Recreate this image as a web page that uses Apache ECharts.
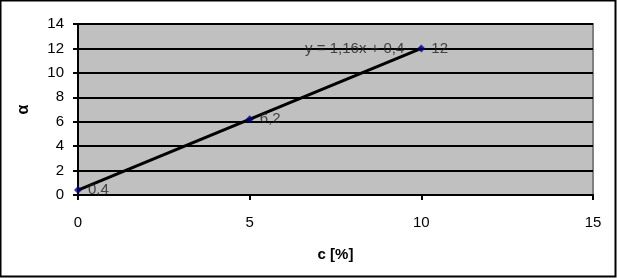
<!DOCTYPE html>
<html><head><meta charset="utf-8">
<script src="https://cdn.jsdelivr.net/npm/echarts@6/dist/echarts.min.js"></script>
<style>html,body{margin:0;padding:0;background:#fff}#c{width:617px;height:278px}</style>
</head><body><div id="c"></div>
<script>
const xValues = [0, 5, 10];
const yValues = [0.4, 6.2, 12];
const dataLabels = ['0,4', '6,2', '12'];
const trendX = [0, 10];
const trendY = [0.4, 12];
const equationText = 'y = 1,16x + 0,4';
const xTicks = [0, 5, 10, 15];
const yTicks = [0, 2, 4, 6, 8, 10, 12, 14];

const chart = echarts.init(document.getElementById('c'), null, {renderer: 'canvas'});
const font = 'Liberation Sans, Arial, sans-serif';
const last = trendX.length - 1;
chart.setOption({
  animation: false,
  textStyle: {fontFamily: font},
  graphic: [{type: 'rect', shape: {x: 0.5, y: 0.5, width: 615, height: 276}, style: {fill: 'none', stroke: '#000', lineWidth: 2}, z: 100}],
  grid: {left: 78, right: 24, top: 24, bottom: 83, show: true, backgroundColor: '#c0c0c0', borderColor: '#808080', borderWidth: 2},
  xAxis: {
    type: 'value', min: xTicks[0], max: xTicks[xTicks.length - 1], interval: 5,
    name: 'c [%]', nameLocation: 'middle', nameGap: 52,
    nameTextStyle: {fontWeight: 'bold', fontSize: 15, color: '#000', fontFamily: font},
    axisLine: {onZero: false, lineStyle: {color: '#000', width: 2}},
    axisTick: {show: true, length: 5, lineStyle: {color: '#000', width: 2}},
    axisLabel: {color: '#000', fontSize: 15, margin: 20, fontFamily: font},
    splitLine: {show: false}
  },
  yAxis: {
    type: 'value', min: yTicks[0], max: yTicks[yTicks.length - 1], interval: 2,
    name: 'α', nameLocation: 'middle', nameGap: 46,
    nameTextStyle: {fontWeight: 'bold', fontSize: 16, color: '#000', fontFamily: font},
    axisLine: {onZero: false, lineStyle: {color: '#000', width: 2}},
    axisTick: {show: true, length: 5, lineStyle: {color: '#000', width: 2}},
    axisLabel: {color: '#000', fontSize: 15, margin: 14, fontFamily: font},
    splitLine: {show: true, lineStyle: {color: '#000', width: 2}}
  },
  series: [
    {
      type: 'line', data: trendX.map((x, i) => [x, trendY[i]]),
      symbol: 'none', lineStyle: {color: '#000', width: 3}, z: 3
    },
    {
      type: 'scatter', data: [[trendX[last], trendY[last]]],
      symbolSize: 0, z: 5, silent: true,
      label: {show: true, formatter: equationText, position: 'left', distance: 17, color: '#222', fontSize: 15, fontFamily: font}
    },
    {
      type: 'scatter', data: xValues.map((x, i) => [x, yValues[i]]),
      symbol: 'diamond', symbolSize: 8, itemStyle: {color: '#000080'}, z: 4,
      label: {show: true, position: 'right', distance: 6, color: '#222', fontSize: 15, fontFamily: font,
        formatter: p => dataLabels[p.dataIndex]}
    }
  ]
});
</script></body></html>
